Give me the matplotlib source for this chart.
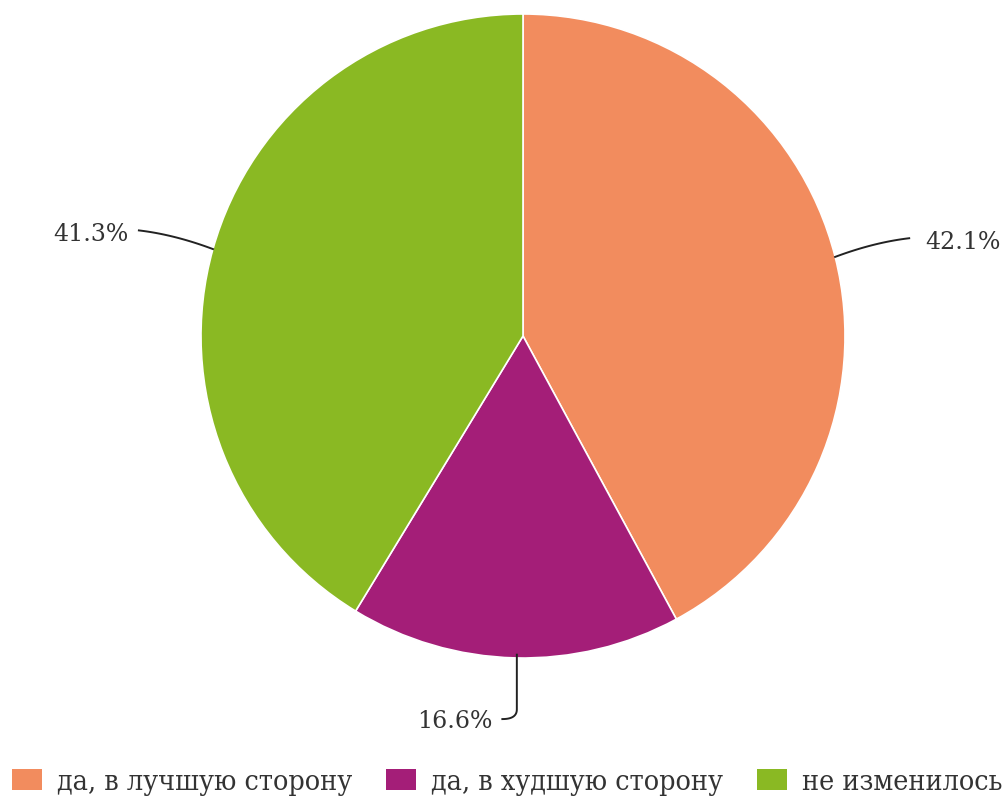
import matplotlib
matplotlib.use("Agg")
import matplotlib.pyplot as plt
import matplotlib.patches as mpatches
import numpy as np

categories = ["да, в лучшую сторону", "да, в худшую сторону", "не изменилось"]
values = [42.1, 16.6, 41.3]
colors = ["#f28c5e", "#a41e78", "#8ab923"]
label_texts = ["42.1%", "16.6%", "41.3%"]

W, H = 1007, 799
fig = plt.figure(figsize=(W / 100, H / 100), dpi=100)
cx, cy, R = 523, 336, 322
ax = fig.add_axes([(cx - R) / W, 1 - (cy + R) / H, 2 * R / W, 2 * R / H])

wedges, _ = ax.pie(values, colors=colors, startangle=90, counterclock=False,
                   radius=1.0, wedgeprops=dict(edgecolor="white", linewidth=1.2))
ax.set_xlim(-1, 1)
ax.set_ylim(-1, 1)
ax.set_aspect("equal")
ax.axis("off")


def bez(p0, p1, p2, n=30):
    t = np.linspace(0, 1, n)[:, None]
    return (1 - t) ** 2 * np.array(p0) + 2 * (1 - t) * t * np.array(p1) + t ** 2 * np.array(p2)


fs = 17
lc = "#222222"
for w, txt in zip(wedges, label_texts):
    mid = np.deg2rad((w.theta1 + w.theta2) / 2)
    x0, y0 = np.cos(mid), np.sin(mid)
    if abs(x0) > 0.3:
        s = 1 if x0 > 0 else -1
        p2 = (x0 + s * 0.23, y0 + 0.058)
        p1 = (x0 + s * 0.12, y0 + 0.045)
        pts = bez((x0, y0), p1, p2)
        ax.plot(pts[:, 0], pts[:, 1], color=lc, lw=1.4, clip_on=False)
        gap = 0.05 if s > 0 else 0.032
        ax.text(p2[0] + s * gap, p2[1] - 0.014, txt, ha="left" if s > 0 else "right",
                va="center", fontsize=fs, family="DejaVu Serif", color="#333333")
    else:
        xa = x0 + 0.006
        p_end = (xa - 0.045, y0 - 0.19)
        seg = np.array([[xa, y0 + 0.01], [xa, y0 - 0.16]])
        curve = bez((xa, y0 - 0.16), (xa, y0 - 0.19), p_end, 15)
        pts = np.vstack([seg, curve])
        ax.plot(pts[:, 0], pts[:, 1], color=lc, lw=1.4, clip_on=False)
        ax.text(p_end[0] - 0.03, p_end[1] - 0.008, txt, ha="right", va="center",
                fontsize=fs, family="DejaVu Serif", color="#333333")

handles = [mpatches.Patch(facecolor=c, edgecolor="none") for c in colors]
leg = fig.legend(handles, categories, loc="center left", bbox_to_anchor=(12 / W, 1 - 782 / H),
                 ncol=3, frameon=False, handlelength=1.05, handleheight=0.74,
                 handletextpad=0.54, columnspacing=1.18, borderaxespad=0, borderpad=0,
                 prop=dict(family="DejaVu Serif", stretch="condensed", size=20.5))
for t in leg.get_texts():
    t.set_color("#333333")

fig.savefig("out.png", dpi=100, facecolor="white")
